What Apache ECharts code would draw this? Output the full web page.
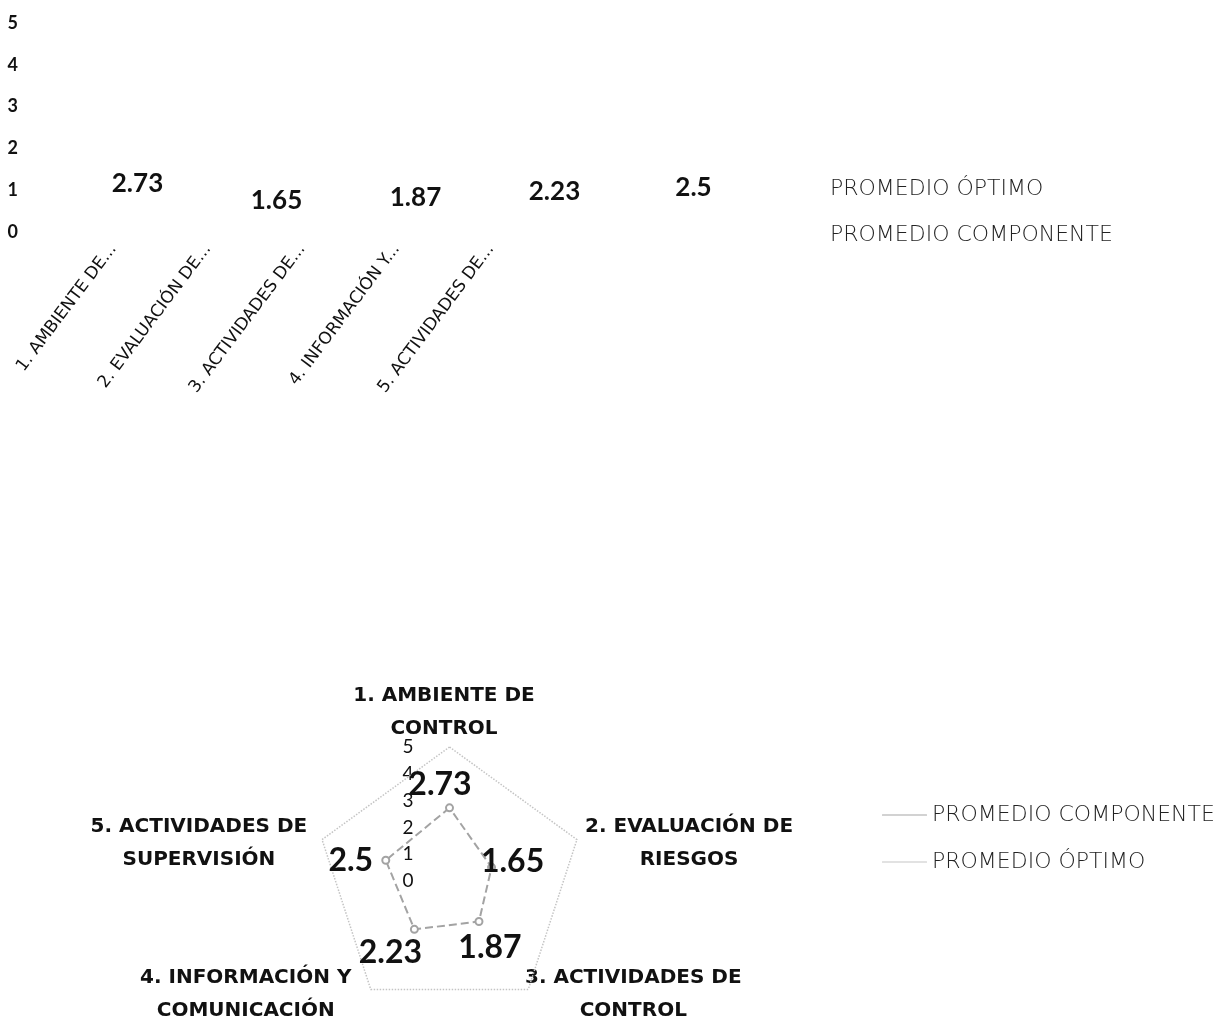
<!DOCTYPE html>
<html>
<head>
<meta charset="utf-8">
<script src="https://cdn.jsdelivr.net/npm/echarts@6/dist/echarts.min.js"></script>
<style>
  html, body { margin: 0; padding: 0; background: #fff; }
  #bars { position: absolute; left: 0; top: 0; width: 1229px; height: 480px; }
  #radar { position: absolute; left: 0; top: 480px; width: 1229px; height: 540px; }
</style>
</head>
<body>
<div id="bars"></div>
<div id="radar"></div>
<script>
// Component names (short form for the column axis, full form for the radar)
const shortNames = ['1. AMBIENTE DE...', '2. EVALUACIÓN DE...', '3. ACTIVIDADES DE...', '4. INFORMACIÓN Y...', '5. ACTIVIDADES DE...'];
const fullNames = ['1. AMBIENTE DE\nCONTROL', '2. EVALUACIÓN DE\nRIESGOS', '3. ACTIVIDADES DE\nCONTROL', '4. INFORMACIÓN Y\nCOMUNICACIÓN', '5. ACTIVIDADES DE\nSUPERVISIÓN'];
// Average score per component and the optimum score
const componentAvg = [2.73, 1.65, 1.87, 2.23, 2.5];
const optimumAvg = [5, 5, 5, 5, 5];
const scaleTicks = [0, 1, 2, 3, 4, 5];

const SERIES_OPT = 'PROMEDIO ÓPTIMO';
const SERIES_COMP = 'PROMEDIO COMPONENTE';
const NUM_FONT = 'Lato, "Open Sans", sans-serif';
const TXT_FONT = '"DejaVu Sans", sans-serif';

// ---------- Column chart ----------
const bars = echarts.init(document.getElementById('bars'));
bars.setOption({
  animation: false,
  legend: {
    orient: 'vertical',
    left: 794, top: 173,
    itemGap: 24, itemWidth: 25, itemHeight: 14,
    textStyle: { fontFamily: TXT_FONT, fontWeight: 200, fontSize: 22, color: '#222' },
    data: [
      { name: SERIES_OPT, itemStyle: { opacity: 0 }, lineStyle: { opacity: 0 } },
      { name: SERIES_COMP, itemStyle: { opacity: 0 }, lineStyle: { opacity: 0 } }
    ]
  },
  grid: [
    { left: 66, top: 23, width: 472, height: 209 },
    { left: 68, top: 23, width: 695, height: 209 }
  ],
  xAxis: [
    {
      gridIndex: 0, type: 'category', data: shortNames,
      axisLine: { show: false }, axisTick: { show: false },
      axisLabel: { rotate: 53, margin: 14, fontFamily: TXT_FONT, fontSize: 17, color: '#111', interval: 0 }
    },
    { gridIndex: 1, type: 'category', data: shortNames, show: false }
  ],
  yAxis: [
    {
      gridIndex: 0, type: 'value', min: scaleTicks[0], max: scaleTicks[scaleTicks.length - 1], interval: 1,
      axisLine: { show: false }, axisTick: { show: false }, splitLine: { show: false },
      axisLabel: { margin: 48, fontFamily: NUM_FONT, fontWeight: 'bold', fontSize: 18, color: '#111' }
    },
    { gridIndex: 1, type: 'value', min: 0, max: 13.6, show: false, splitLine: { show: false } }
  ],
  series: [
    {
      name: SERIES_OPT, type: 'line', xAxisIndex: 0, yAxisIndex: 0,
      data: optimumAvg, symbol: 'none',
      lineStyle: { opacity: 0 }, itemStyle: { opacity: 0 }
    },
    {
      name: SERIES_COMP, type: 'bar', xAxisIndex: 1, yAxisIndex: 1,
      data: componentAvg, barWidth: '40%',
      itemStyle: { color: 'rgba(0,0,0,0)' },
      label: {
        show: true, position: 'top', distance: -7,
        fontFamily: NUM_FONT, fontWeight: 'bold', fontSize: 26, color: '#111'
      }
    }
  ]
});

// ---------- Radar chart ----------
// Radar axes run counter-clockwise, so list components in reverse after the first
// to read 1 -> 5 clockwise.
const radarOrder = [0, 4, 3, 2, 1];
// Per-component value label shifts (padding) so each value sits beside its vertex
const valueLabelPad = [[0, 19, 46, 0], [0, 0, 12, 42], [52, 0, 0, 22], [46, 48, 0, 0], [0, 70, 0, 0]];
// Per-component name placement: [nameGap, padding]
const namePlace = [
  [35, [0, 11, 0, 0]],
  [-13, [0, 0, 0, 249]],
  [6, [0, 0, 0, 203]],
  [6, [0, 243, 0, 0]],
  [-13, [0, 271, 0, 0]]
];

const indicators = radarOrder.map((k, pos) => {
  const ind = {
    name: fullNames[k], min: 0, max: 5,
    nameGap: namePlace[k][0],
    nameMoveOverlap: false,
    nameTextStyle: { align: 'center', verticalAlign: 'middle', padding: namePlace[k][1] }
  };
  if (pos === 0) {
    ind.axisLabel = { show: true, margin: 36, fontFamily: NUM_FONT, fontSize: 19, color: '#111', showMinLabel: true };
  }
  return ind;
});

const rich = {};
valueLabelPad.forEach((p, i) => {
  rich['v' + i] = { padding: p, fontFamily: NUM_FONT, fontWeight: 'bold', fontSize: 32, color: '#111' };
});

const radar = echarts.init(document.getElementById('radar'));
radar.setOption({
  animation: false,
  legend: {
    orient: 'vertical',
    left: 877, top: 319,
    itemGap: 25, itemWidth: 45, itemHeight: 2,
    textStyle: { fontFamily: TXT_FONT, fontWeight: 200, fontSize: 22, color: '#222' },
    data: [
      { name: SERIES_COMP, itemStyle: { color: '#d2d2d2' } },
      { name: SERIES_OPT, itemStyle: { color: '#e2e2e2' } }
    ]
  },
  radar: {
    center: [449.5, 401],
    radius: 134,
    startAngle: 90,
    splitNumber: 5,
    shape: 'polygon',
    indicator: indicators,
    axisName: { fontFamily: TXT_FONT, fontWeight: 'bold', fontSize: 20, lineHeight: 33, color: '#111' },
    axisLine: { show: false },
    axisTick: { show: false },
    axisLabel: { show: false },
    splitLine: { show: false },
    splitArea: { show: false }
  },
  series: [{
    type: 'radar',
    data: [
      {
        name: SERIES_COMP, value: radarOrder.map(k => componentAvg[k]),
        symbol: 'emptyCircle', symbolSize: 7,
        lineStyle: { color: '#a3a3a3', width: 2, type: 'dashed' },
        itemStyle: { color: '#a3a3a3' },
        label: {
          show: true, position: 'inside',
          formatter: p => '{v' + radarOrder[p.dimensionIndex] + '|' + p.value + '}',
          rich: rich
        }
      },
      {
        name: SERIES_OPT, value: radarOrder.map(k => optimumAvg[k]),
        symbol: 'none',
        lineStyle: { color: '#c4c4c4', width: 1.5, type: 'dotted' },
        itemStyle: { color: '#c4c4c4' }
      }
    ]
  }]
});
</script>
</body>
</html>
